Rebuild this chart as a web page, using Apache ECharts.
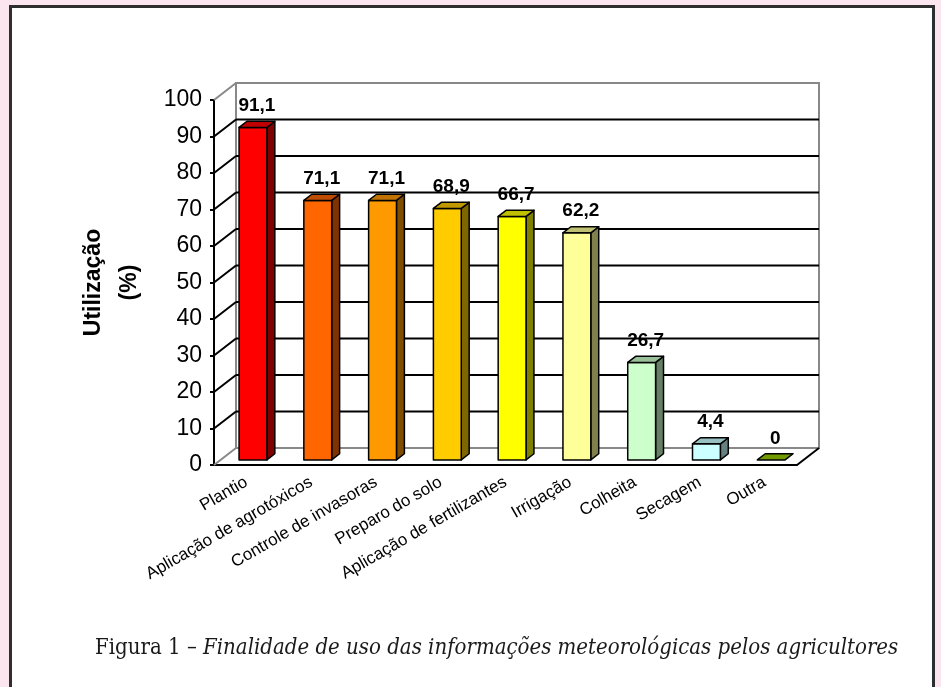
<!DOCTYPE html>
<html><head><meta charset="utf-8">
<script src="https://cdn.jsdelivr.net/npm/echarts@6/dist/echarts.min.js"></script>
<style>
html,body{margin:0;padding:0;background:#fbe5ee;width:941px;height:687px;overflow:hidden;}
#frame{position:absolute;left:9px;top:5px;width:920px;height:700px;border:3px solid #2e2e2e;background:#fff;}
#chart{position:absolute;left:0;top:0;width:941px;height:687px;}
</style></head>
<body>
<div id="frame"></div>
<div id="chart"></div>
<script>
const categories = ['Plantio','Aplicação de agrotóxicos','Controle de invasoras','Preparo do solo','Aplicação de fertilizantes','Irrigação','Colheita','Secagem','Outra'];
const values = [91.1, 71.1, 71.1, 68.9, 66.7, 62.2, 26.7, 4.4, 0];
const yTicks = [0,10,20,30,40,50,60,70,80,90,100];
const frontColors = ['#ff0000','#ff6600','#ff9900','#ffcc00','#ffff00','#ffff99','#ccffcc','#ccffff','#99cc00'];
const topColors   = ['#c00000','#c04c00','#c07300','#c09900','#c0c000','#c0c073','#99c099','#99c0c0','#739a00'];
const sideColors  = ['#800000','#803300','#804c00','#806600','#808000','#80804c','#668066','#668080','#4c6600'];

const DX = 22, DY = -17;      // depth offset of back wall
const F0 = 0.30, F1 = 0.66;   // bar depth position fraction
const BARW = 0.43;

function fmt(v){ return v === 0 ? '0' : v.toFixed(1).replace('.', ','); }

const chart = echarts.init(document.getElementById('chart'));
chart.setOption({
  backgroundColor: 'transparent',
  animation: false,
  grid: { left: 214, right: 144, top: 100, bottom: 222 },
  xAxis: {
    type: 'category', data: categories,
    axisLine: { lineStyle: { color: '#000', width: 2 } },
    axisTick: { inside: true, length: 5, lineStyle: { color: '#000', width: 2 } },
    axisLabel: { interval: 0, rotate: 30, margin: 16, color: '#000', fontFamily: 'Liberation Sans', fontSize: 17 }
  },
  yAxis: {
    type: 'value', min: 0, max: 100, interval: 10,
    name: 'Utilização\n(%)', nameLocation: 'middle', nameRotate: 90, nameGap: 66,
    nameTextStyle: { color: '#000', fontFamily: 'Liberation Sans', fontSize: 23, fontWeight: 'bold', lineHeight: 36 },
    axisLine: { show: true, lineStyle: { color: '#000', width: 2 } },
    axisTick: { show: true, length: 4, lineStyle: { color: '#000', width: 2 } },
    splitLine: { show: false },
    axisLabel: { margin: 12, color: '#000', fontFamily: 'Liberation Sans', fontSize: 23 }
  },
  graphic: [{
    type: 'text', left: 95, top: 637,
    style: {
      text: '{a|Figura 1 – }{b|Finalidade de uso das informações meteorológicas pelos agricultores}',
      rich: {
        a: { fontFamily: 'DejaVu Serif Condensed, DejaVu Serif', fontSize: 22, fill: '#1a1a1a' },
        b: { fontFamily: 'DejaVu Serif Condensed, DejaVu Serif', fontStyle: 'italic', fontSize: 22, fill: '#1a1a1a' }
      }
    }
  }],
  series: [
    {
      type: 'custom', z: 1, silent: true,
      data: [[0]],
      renderItem: function(params, api){
        const cs = params.coordSys;
        const x0 = cs.x, x1 = cs.x + cs.width, yb = cs.y + cs.height, yt = cs.y;
        const ch = [];
        ch.push({ type: 'rect', shape: { x: x0 + DX, y: yt + DY, width: cs.width, height: cs.height },
          style: { fill: '#fff', stroke: '#888', lineWidth: 2 } });
        yTicks.forEach(function(t){
          const y = api.coord([0, t])[1];
          const edge = (t === 0 || t === 100);
          if (!edge) ch.push({ type: 'line', shape: { x1: x0 + DX, y1: y + DY, x2: x1 + DX, y2: y + DY },
            style: { stroke: '#000', lineWidth: 2 } });
          ch.push({ type: 'line', shape: { x1: x0, y1: y, x2: x0 + DX, y2: y + DY },
            style: { stroke: edge ? '#888' : '#000', lineWidth: 2 } });
        });
        ch.push({ type: 'line', shape: { x1: x1, y1: yb, x2: x1 + DX, y2: yb + DY },
          style: { stroke: '#000', lineWidth: 2 } });
        return { type: 'group', children: ch };
      }
    },
    {
      type: 'custom', z: 3,
      data: values.map(function(v, i){ return [i, v]; }),
      renderItem: function(params, api){
        const i = api.value(0), v = api.value(1);
        const base = api.coord([i, 0]);
        const top = api.coord([i, v]);
        const bw = api.size([1, 0])[0];
        const fw = bw * BARW;
        const fx0 = base[0] - fw / 2 + DX * F0, fx1 = fx0 + fw;
        const fyb = base[1] + DY * F0, fyt = top[1] + DY * F0;
        const ddx = DX * (F1 - F0), ddy = DY * (F1 - F0);
        const st = { stroke: '#000', lineWidth: 1.5, lineJoin: 'round' };
        const ch = [];
        if (fyb - fyt > 0.5) {
          ch.push({ type: 'polygon', shape: { points: [[fx1, fyt], [fx1 + ddx, fyt + ddy], [fx1 + ddx, fyb + ddy], [fx1, fyb]] },
            style: Object.assign({ fill: sideColors[i] }, st) });
          ch.push({ type: 'rect', shape: { x: fx0, y: fyt, width: fw, height: fyb - fyt },
            style: Object.assign({ fill: frontColors[i] }, st) });
        }
        ch.push({ type: 'polygon', shape: { points: [[fx0, fyt], [fx1, fyt], [fx1 + ddx, fyt + ddy], [fx0 + ddx, fyt + ddy]] },
          style: Object.assign({ fill: topColors[i] }, st) });
        ch.push({ type: 'text', x: (fx0 + fx1 + ddx) / 2, y: fyt + ddy - 6,
          style: { text: fmt(v), fill: '#000', font: 'bold 19px "Liberation Sans"', textAlign: 'center', textVerticalAlign: 'bottom' } });
        return { type: 'group', children: ch };
      }
    }
  ]
});
</script>
</body></html>
